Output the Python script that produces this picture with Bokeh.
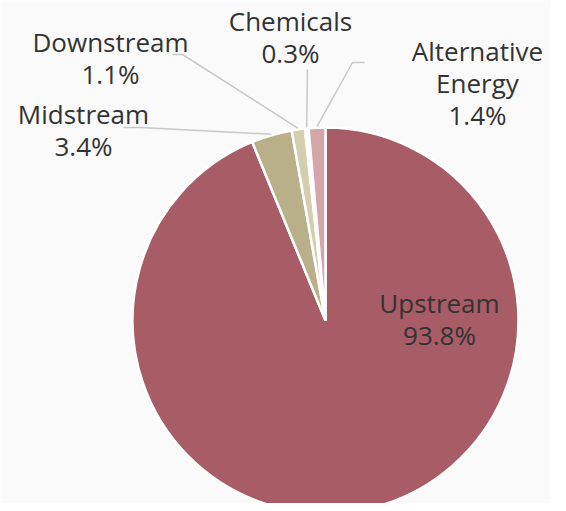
import math
from bokeh.plotting import figure
from bokeh.models import Range1d, ColumnDataSource
from bokeh.core.properties import value
from bokeh.embed import file_html
from bokeh.resources import INLINE

# ---- data ----
categories = ["Upstream", "Midstream", "Downstream", "Chemicals", "Alternative Energy"]
shares = [93.8, 3.4, 1.1, 0.3, 1.4]
colors = ["#A85C65", "#B9B089", "#D4CEAE", "#FFFFFF", "#D4A6AB"]
label_lines = [["Upstream"], ["Midstream"], ["Downstream"], ["Chemicals"], ["Alternative", "Energy"]]

# ---- layout (picture pixel coordinates, converted below) ----
W, H = 550, 503
def dx(X): return X
def dy(Y): return H - Y

CX, CY, R = 325, 320, 193
# label block centre and leader elbow/end points (picture px)
label_pos = [(439, 318), (83, 129), (110, 57), (290, 36), (477, 82)]
leader_pts = [None, [(140, 127), (123, 127)], [(182, 54), (172, 54)],
              [(307, 69), (307, 69)], [(352, 62), (364, 62)]]

p = figure(width=W, height=H, output_backend="svg", toolbar_location=None,
           x_range=Range1d(0, W), y_range=Range1d(0, H), min_border=0)
p.axis.visible = False
p.grid.visible = False
p.outline_line_color = None
p.background_fill_color = "#FAFAFA"
p.border_fill_color = "#FAFAFA"

total = sum(shares)
starts, ends, mids = [], [], []
cum = 0.0
for s in shares:
    a0 = math.pi / 2 - 2 * math.pi * cum / total
    cum += s
    a1 = math.pi / 2 - 2 * math.pi * cum / total
    starts.append(a0); ends.append(a1); mids.append((a0 + a1) / 2)

src = ColumnDataSource(dict(start=starts, end=ends, color=colors,
                            x=[dx(CX)] * len(shares), y=[dy(CY)] * len(shares)))
p.wedge(x="x", y="y", radius=R, start_angle="start", end_angle="end",
        direction="clock", fill_color="color", line_color="white",
        line_width=2.5, source=src)

# leader lines
for i, pts in enumerate(leader_pts):
    if pts is None:
        continue
    sx = dx(CX) + (R + 1) * math.cos(mids[i])
    sy = dy(CY) + (R + 1) * math.sin(mids[i])
    xs = [sx] + [dx(a) for a, b in pts]
    ys = [sy] + [dy(b) for a, b in pts]
    p.line(xs, ys, line_color="#C8C8C8", line_width=1.5)

# labels
tx, ty, tt = [], [], []
LH = 32
for i, lines in enumerate(label_lines):
    all_lines = lines + [f"{shares[i]}%"]
    n = len(all_lines)
    X, Y = label_pos[i]
    for k, t in enumerate(all_lines):
        tx.append(dx(X))
        ty.append(dy(Y + (k - (n - 1) / 2) * LH))
        tt.append(t)
p.text(x=tx, y=ty, text=tt, text_align="center", text_baseline="middle",
       text_font=value("Open Sans"), text_font_size="26px", text_color="#333333")

open("out.html", "w").write(file_html(p, INLINE))
